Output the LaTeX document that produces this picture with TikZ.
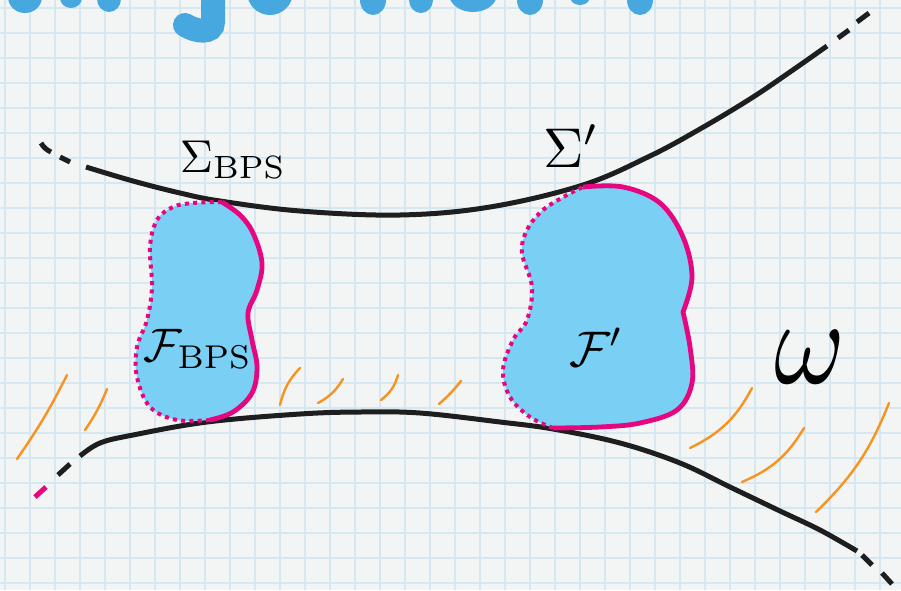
\documentclass[tikz,border=0pt]{standalone}
\usetikzlibrary{calc}
\definecolor{paper}{HTML}{F3F4F4}
\definecolor{gridc}{HTML}{D5E8F1}
\definecolor{titleblue}{HTML}{47A8DF}
\definecolor{blobfill}{HTML}{79CFF4}
\definecolor{mag}{HTML}{E6067F}
\definecolor{hatchc}{HTML}{F7931E}
\definecolor{ink}{HTML}{1E1E1E}
\tikzset{
  gridline/.style={draw=gridc, line width=1.3pt},
  curve/.style={draw=ink, line width=5pt},
  curvedash/.style={draw=ink, line width=5pt, line cap=butt},
  edgesolid/.style={draw=mag, line width=4.8pt, line join=round},
  edgedot/.style={draw=mag, line width=4pt, dash pattern=on 4pt off 4.3pt},
  hatch/.style={draw=hatchc, line width=2.4pt, line cap=round},
  titleblob/.style={fill=titleblue},
  lbl/.style={inner sep=0pt, text=black}
}
\begin{document}
\begin{tikzpicture}[x=1pt, y=-1pt]
\useasboundingbox (0,0) rectangle (901,590);
\fill[paper] (0,0) rectangle (901,590);
% grid
\begin{scope}
\clip (0,0) rectangle (901,590);
\foreach \x in {5,30,...,905} \draw[gridline] (\x,0) -- (\x,590);
\foreach \y in {8,33,...,590} \draw[gridline] (0,\y) -- (901,\y);
% fragments of the cut-off title
\fill[titleblob] (25,-3) ellipse [x radius=17, y radius=16];
\fill[titleblob] (71,-2) ellipse [x radius=11, y radius=10];
\fill[titleblob] (109,-1) ellipse [x radius=12, y radius=13];
\draw[titleblue, line width=24pt, line cap=round] (213,-10) -- (213,22) .. controls (213,34) and (196,32) .. (185,25);
\fill[titleblob] (270,-8) ellipse [x radius=23, y radius=23];
\fill[titleblob] (373,0) ellipse [x radius=13, y radius=15];
\fill[titleblob] (421,0) ellipse [x radius=12, y radius=13];
\fill[titleblob] (473,-6) ellipse [x radius=24, y radius=18];
\fill[titleblob] (530,0) ellipse [x radius=13, y radius=15];
\fill[titleblob] (580,-3) ellipse [x radius=10, y radius=8];
\fill[titleblob] (640,0) ellipse [x radius=13, y radius=15];
\end{scope}
% upper curve Sigma
\draw[curve] plot[smooth, tension=0.6] coordinates {(86,167) (133,181) (180,193) (220,201) (300,211) (400,215) (490,207) (583,185) (650,156) (700,129) (750,99) (790,72) (827,46)};
\draw[curvedash] (41,143) .. controls (44,148) and (47,150) .. (51,152);
\draw[curvedash] (60,157) -- (70,162);
\draw[curvedash] (838,38) -- (849,30);
\draw[curvedash] (857,22) -- (869,13);
% lower curve
\draw[curve] plot[smooth, tension=0.6] coordinates {(80,456) (100,443) (133,435) (207,422) (300,414) (360,412) (420,413) (500,422) (553,429) (620,443) (680,463) (730,487) (780,511) (820,530) (857,551)};
\draw[draw=mag, line width=5pt] (35,497) -- (46,487);
\draw[curvedash] (58,475) -- (70,464);
\draw[curvedash] (862,555) -- (872,565);
\draw[curvedash] (882,573) -- (892,584);
% hatch strokes
\draw[hatch] (17,459) to[bend right=4] (67,375);
\draw[hatch] (85,430) to[bend right=6] (107,389);
\draw[hatch] (280,405) to[bend left=15] (300,368);
\draw[hatch] (318,403) to[bend right=15] (343,379);
\draw[hatch] (381,400) to[bend right=18] (398,375);
\draw[hatch] (439,404) to[bend right=5] (461,381);
\draw[hatch] (690,448) to[bend right=18] (752,388);
\draw[hatch] (742,482) to[bend right=18] (804,428);
\draw[hatch] (816,512) to[bend right=12] (889,403);
% left blob F_BPS
\fill[blobfill] plot[smooth, tension=0.6] coordinates {(222,202) (240,215) (253,233) (262,263) (257,290) (248,313) (252,340) (257,367) (252,393) (233,412) (210,420)}
  -- plot[smooth, tension=0.6] coordinates {(210,420) (177,420) (150,407) (137,377) (137,347) (147,320) (152,287) (150,247) (157,220) (173,207) (193,203) (222,202)} -- cycle;
\draw[edgesolid] plot[smooth, tension=0.6] coordinates {(222,202) (240,215) (253,233) (262,263) (257,290) (248,313) (252,340) (257,367) (252,393) (233,412) (210,420)};
\draw[edgedot] plot[smooth, tension=0.6] coordinates {(210,420) (177,420) (150,407) (137,377) (137,347) (147,320) (152,287) (150,247) (157,220) (173,207) (193,203) (222,202)};
% right blob F'
\fill[blobfill] plot[smooth, tension=0.6] coordinates {(583,187) (623,187) (660,203) (683,237) (692,277) (683,312)}
  -- plot[smooth, tension=0.6] coordinates {(683,312) (690,347) (692,383) (677,410) (640,423) (600,427) (553,428)}
  -- plot[smooth, tension=0.6] coordinates {(553,428) (530,417) (510,397) (503,370) (513,340) (527,320) (532,287) (522,253) (527,230) (543,210) (567,195) (583,187)} -- cycle;
\draw[edgesolid] plot[smooth, tension=0.6] coordinates {(583,187) (623,187) (660,203) (683,237) (692,277) (683,312)}
  -- plot[smooth, tension=0.6] coordinates {(683,312) (690,347) (692,383) (677,410) (640,423) (600,427) (553,428)};
\draw[edgedot] plot[smooth, tension=0.6] coordinates {(553,428) (530,417) (510,397) (503,370) (513,340) (527,320) (532,287) (522,253) (527,230) (543,210) (567,195) (583,187)};
% labels
\node[lbl, anchor=base west, scale=4.6] (sbps) at (179,172) {$\Sigma_{\mathrm{BPS}}$};
\node[lbl, anchor=base west, scale=5.6] (sp) at (542,167) {$\Sigma'$};
\node[lbl, anchor=base west, scale=4.7] (fbps) at (143,361) {$\mathcal{F}_{\mathrm{BPS}}$};
\node[lbl, anchor=base west, scale=5.0] (fp) at (568,366) {$\mathcal{F}'$};
\node[lbl, anchor=base west, xscale=10.8, yscale=12.2] (om) at (772,383) {$\omega$};
\end{tikzpicture}
\end{document}
